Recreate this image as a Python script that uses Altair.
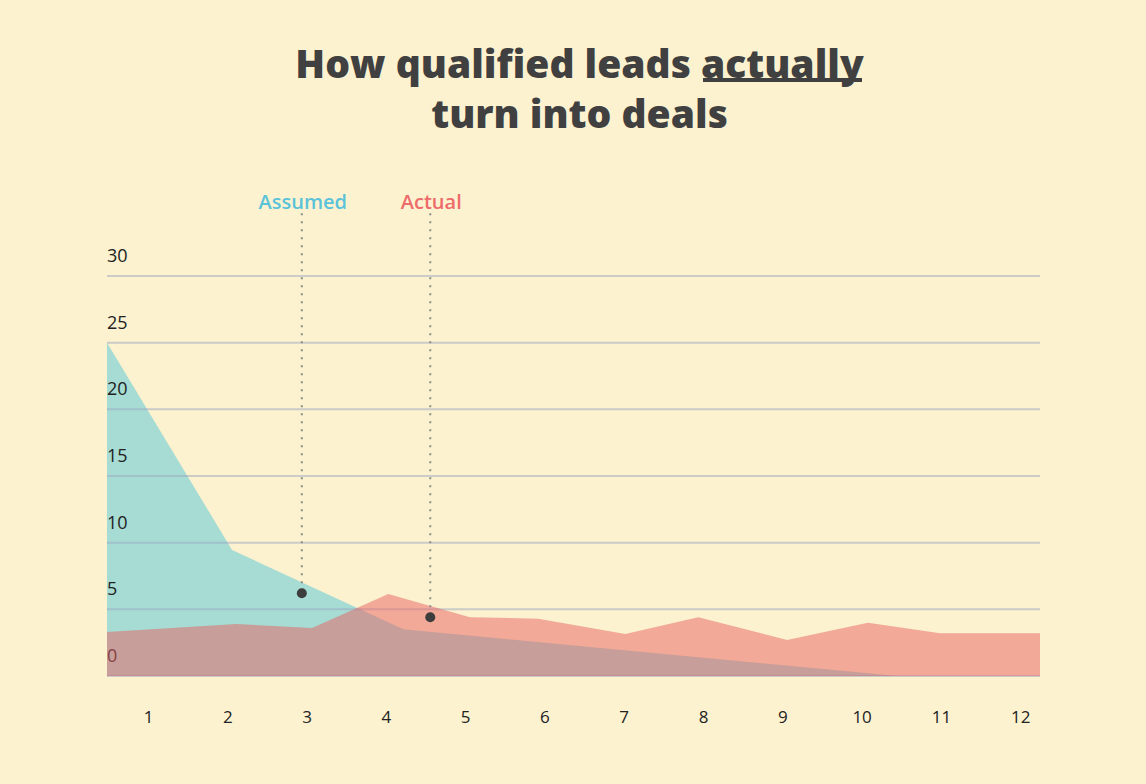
import altair as alt
import pandas as pd

# ---- data ----
assumed_x = [0.483, 2.06, 4.22, 10.45, 12.25]
assumed_y = [25.0, 9.45, 3.5, 0.0, 0.0]

actual_x = [0.483, 2.12, 3.07, 4.03, 5.06, 5.92, 7.02, 7.94, 9.06, 10.08, 10.99, 12.25]
actual_y = [3.3, 3.9, 3.6, 6.15, 4.4, 4.3, 3.15, 4.4, 2.7, 4.0, 3.2, 3.2]

y_ticks = [0, 5, 10, 15, 20, 25, 30]
x_ticks = list(range(1, 13))

marker_names = ["Assumed", "Actual"]
marker_x = [2.94, 4.56]
marker_y = [6.2, 4.4]
marker_colors = ["#5BC3D9", "#EE6B6B"]
label_top = 35.6
line_top = 34.7

BG = "#FCF2D0"
TEAL = "#4FC6D6"
CORAL = "#E76060"
FONT = "Open Sans"

X_DOMAIN = [0.483, 12.25]
Y_DOMAIN = [0, 36]
W, H = 933, 480

assumed_df = pd.DataFrame({"x": assumed_x, "y": assumed_y})
actual_df = pd.DataFrame({"x": actual_x, "y": actual_y})
ticks_df = pd.DataFrame({"v": y_ticks, "label": [str(t) for t in y_ticks]})
markers_df = pd.DataFrame({"name": marker_names, "x": marker_x, "y": marker_y,
                           "top": [line_top] * 2, "ltop": [label_top] * 2,
                           "color": marker_colors})

xscale = alt.Scale(domain=X_DOMAIN, nice=False, zero=False)
yscale = alt.Scale(domain=Y_DOMAIN, nice=False)

x_axis = alt.Axis(values=x_ticks, format="d", title=None, grid=False, domain=False, ticks=False,
                  labelFontSize=17, labelColor="#222222", labelFont=FONT,
                  labelPadding=33)

teal = alt.Chart(assumed_df).mark_area(color=TEAL, opacity=0.5).encode(
    x=alt.X("x:Q", scale=xscale, axis=x_axis),
    y=alt.Y("y:Q", scale=yscale, axis=None),
)

grid = alt.Chart(ticks_df).mark_rule(color="#9AA5C0", opacity=0.5, strokeWidth=2).encode(
    y=alt.Y("v:Q", scale=yscale, axis=None),
    x=alt.value(0), x2=alt.value(W),
)

ylabels = alt.Chart(ticks_df).mark_text(
    align="left", baseline="bottom", dy=-10, fontSize=18, font=FONT, color="#222222"
).encode(
    y=alt.Y("v:Q", scale=yscale, axis=None),
    x=alt.value(0),
    text="label:N",
)

coral = alt.Chart(actual_df).mark_area(color=CORAL, opacity=0.5).encode(
    x=alt.X("x:Q", scale=xscale),
    y=alt.Y("y:Q", scale=yscale),
)

vlines = alt.Chart(markers_df).mark_rule(color="#8C8C8C", strokeWidth=2, strokeDash=[2, 6]).encode(
    x=alt.X("x:Q", scale=xscale),
    y=alt.Y("top:Q", scale=yscale),
    y2="y:Q",
)

dots = alt.Chart(markers_df).mark_circle(color="#3D3D3D", opacity=1, size=100).encode(
    x=alt.X("x:Q", scale=xscale),
    y=alt.Y("y:Q", scale=yscale),
)

mlabels = alt.Chart(markers_df).mark_text(
    fontSize=20, fontWeight=600, font=FONT, baseline="middle", align="center", dy=2, dx=1
).encode(
    x=alt.X("x:Q", scale=xscale),
    y=alt.Y("ltop:Q", scale=yscale),
    text="name:N",
    color=alt.Color("color:N", scale=None),
)

underline = alt.Chart(ticks_df).mark_rule(color="#404040", strokeWidth=3).encode(
    x=alt.value(596), x2=alt.value(755), y=alt.value(-116),
)

chart = alt.layer(teal, grid, ylabels, coral, vlines, dots, mlabels, underline).properties(
    width=W, height=H,
    title=alt.TitleParams(
        text=["How qualified leads actually", "turn into deals"],
        fontSize=39, font=FONT, fontWeight=800, color="#404040",
        anchor="middle", lineHeight=50, offset=62, dx=6, dy=119,
    ),
    autosize=alt.AutoSizeParams(type="none"),
    padding={"left": 107, "top": 196, "right": 106, "bottom": 108},
    background=BG,
).configure_view(stroke=None)

chart.save("out.html", embed_options={"renderer": "svg", "actions": False})
